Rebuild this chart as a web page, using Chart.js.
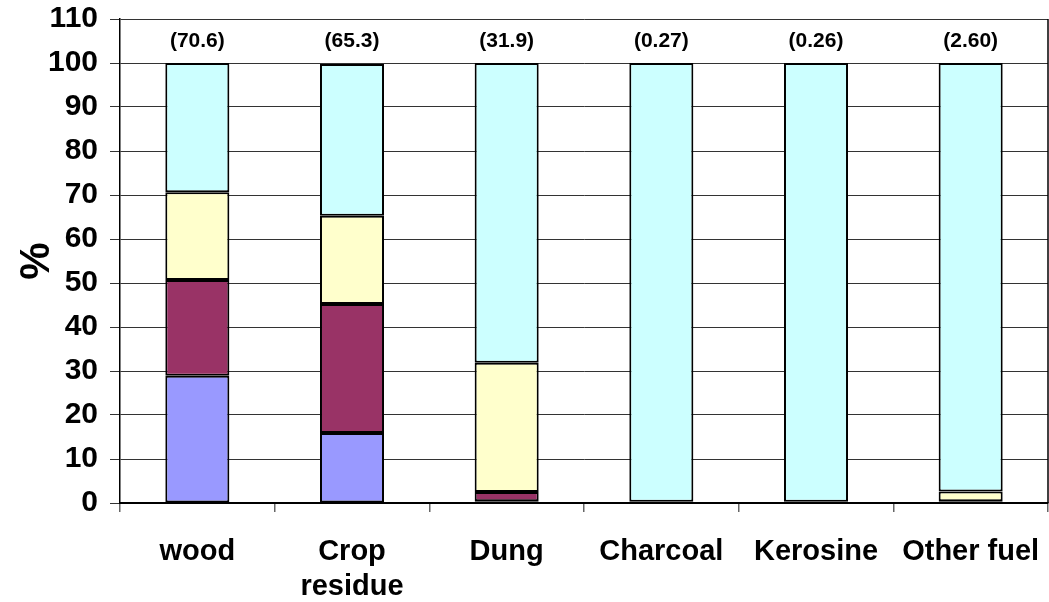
<!DOCTYPE html>
<html>
<head>
<meta charset="utf-8">
<script src="https://cdn.jsdelivr.net/npm/chart.js@4"></script>
<style>
    html, body { margin: 0; padding: 0; background: #fff; }
    #wrap { width: 1049px; height: 602px; }
</style>
</head>
<body>
<div id="wrap"><canvas id="fuelChart"></canvas></div>
<script>
// dados
const categories = ['wood', ['Crop', 'residue'], 'Dung', 'Charcoal', 'Kerosine', 'Other fuel'];
const seriesBlue = [28.9, 15.9, 0.4, 0.1, 0.1, 0.2];
const seriesMaroon = [21.8, 29.3, 2.1, 0.1, 0.1, 0.2];
const seriesYellow = [19.9, 20.1, 29.4, 0.07, 0.06, 2.2];
const seriesCyan = [29.4, 34.5, 68.1, 99.73, 99.74, 97.4];
const topLabels = ['(70.6)', '(65.3)', '(31.9)', '(0.27)', '(0.26)', '(2.60)'];
const yTicks = [0, 10, 20, 30, 40, 50, 60, 70, 80, 90, 100, 110];
const labelLevel = 105;

const FONT = 'Liberation Sans, Arial, sans-serif';

// rótulos acima das barras + borda direita da área do gráfico
const extrasPlugin = {
    id: 'extras',
    afterDatasetsDraw(chart) {
        const { ctx, chartArea, scales } = chart;
        ctx.save();
        ctx.font = 'bold 21px ' + FONT;
        ctx.fillStyle = '#000';
        ctx.textAlign = 'center';
        ctx.textBaseline = 'middle';
        topLabels.forEach((txt, i) => {
            ctx.fillText(txt, scales.x.getPixelForValue(i), scales.y.getPixelForValue(labelLevel));
        });
        ctx.strokeStyle = '#000';
        ctx.lineWidth = 1.5;
        ctx.beginPath();
        ctx.moveTo(chartArea.right, chartArea.top);
        ctx.lineTo(chartArea.right, chartArea.bottom);
        ctx.stroke();
        ctx.restore();
    }
};

function makeSet(label, data, color) {
    return {
        label: label,
        data: data,
        backgroundColor: color,
        borderColor: '#000',
        borderWidth: 2,
        borderSkipped: false,
        categoryPercentage: 1,
        barPercentage: 0.414
    };
}

new Chart(document.getElementById('fuelChart'), {
    type: 'bar',
    data: {
        labels: categories,
        datasets: [
            makeSet('s1', seriesBlue, '#9999FF'),
            makeSet('s2', seriesMaroon, '#993366'),
            makeSet('s3', seriesYellow, '#FFFFCC'),
            makeSet('s4', seriesCyan, '#CCFFFF')
        ]
    },
    options: {
        responsive: true,
        maintainAspectRatio: false,
        animation: false,
        layout: { padding: { top: 19, right: 1, left: 0, bottom: 0 } },
        plugins: {
            legend: { display: false },
            tooltip: { enabled: false }
        },
        scales: {
            x: {
                stacked: true,
                afterFit(scale) {
                    scale.height = 99;
                    scale.paddingLeft = 0;
                    scale.paddingRight = 0;
                },
                grid: {
                    offset: true,
                    drawOnChartArea: false,
                    tickLength: 9,
                    color: '#666',
                    lineWidth: 1.5
                },
                border: { color: '#000', width: 2 },
                ticks: {
                    color: '#000',
                    padding: 23,
                    font: { family: FONT, size: 29, weight: 'bold', lineHeight: 1.2 },
                    maxRotation: 0
                }
            },
            y: {
                stacked: true,
                min: 0,
                max: 110,
                afterFit(scale) {
                    scale.width = 120;
                    scale.paddingTop = 0;
                    scale.paddingBottom = 0;
                },
                afterBuildTicks(scale) { scale.ticks = yTicks.map(v => ({ value: v })); },
                grid: {
                    color: '#333',
                    lineWidth: 1,
                    tickLength: 10
                },
                border: { color: '#000', width: 1.5 },
                ticks: {
                    color: '#000',
                    padding: 12,
                    font: { family: FONT, size: 30, weight: 'bold' }
                },
                title: {
                    display: true,
                    text: '%',
                    color: '#000',
                    padding: { top: 12, bottom: 0 },
                    font: { family: FONT, size: 42, weight: 'bold' }
                }
            }
        }
    },
    plugins: [extrasPlugin]
});
</script>
</body>
</html>
